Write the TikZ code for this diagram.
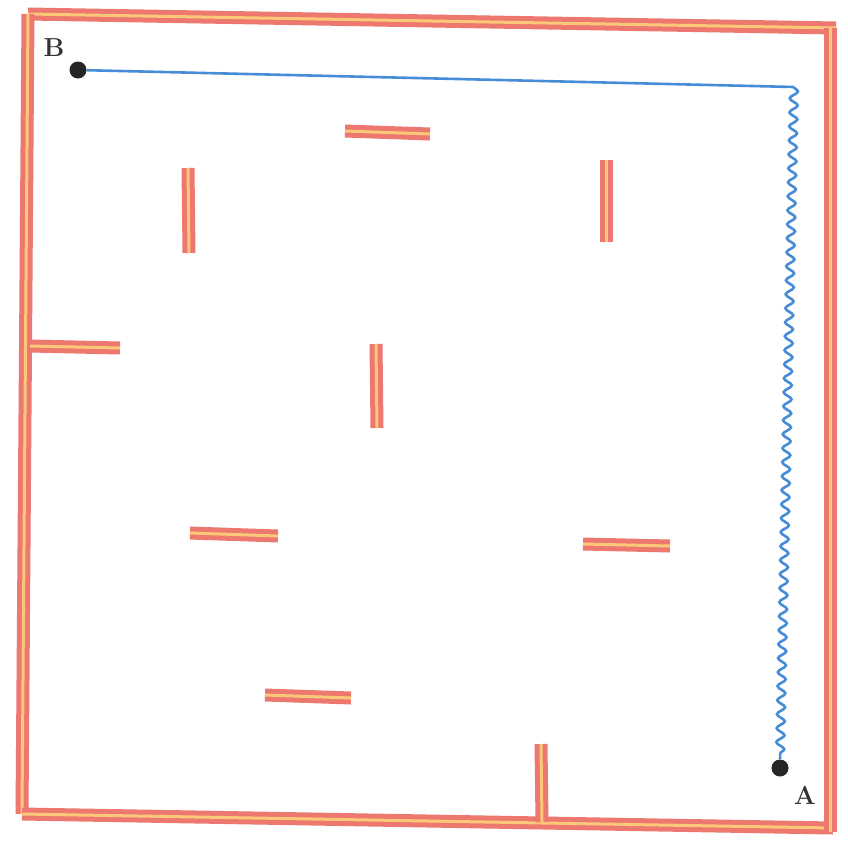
\documentclass[tikz,border=0pt]{standalone}
\usetikzlibrary{decorations.pathmorphing}
\definecolor{wallred}{RGB}{236,120,112}
\definecolor{wallyel}{RGB}{250,200,120}
\definecolor{pathblue}{RGB}{70,140,215}
\begin{document}
\begin{tikzpicture}[x=1pt,y=-1pt,
  wall/.style={draw=wallred,line width=13pt,postaction={draw=wallyel,line width=3pt}},
  dot/.style={circle,fill=black!85,inner sep=0pt,minimum size=17pt},
  lbl/.style={font=\bfseries\fontsize{26}{30}\selectfont,text=black!80},
  route/.style={draw=pathblue,line width=2.6pt}]
\useasboundingbox (0,0) rectangle (848,841);
% outer walls
\coordinate (tl) at (28,14);
\coordinate (tr) at (836,28);
\coordinate (bl) at (22,814);
\coordinate (br) at (833,828);
\draw[wall] (tl) -- (tr);
\draw[wall] (tl) -- (bl);
\draw[wall] (bl) -- (br);
\draw[wall] (830,28) -- (830,832);
% inner walls
\draw[wall] (345,131) -- (430,134);
\draw[wall] (188,168) -- (189,253);
\draw[wall] (606,160) -- (606,242);
\draw[wall] (30,346) -- (120,348);
\draw[wall] (376,344) -- (377,428);
\draw[wall] (190,533) -- (278,536);
\draw[wall] (583,544) -- (670,546);
\draw[wall] (265,695) -- (351,698);
\draw[wall] (541,744) -- (542,822);
% points
\node[dot] (B) at (78,70) {};
\node[dot] (A) at (780,768) {};
\node[lbl] (lB) at (54,48) {B};
\node[lbl] (lA) at (805,795) {A};
\coordinate (C) at (794,87);
\path[route] (B) -- (C);
\path[route,decorate,decoration={snake,amplitude=4pt,segment length=14pt}] (C) -- (A.north);
\end{tikzpicture}
\end{document}
